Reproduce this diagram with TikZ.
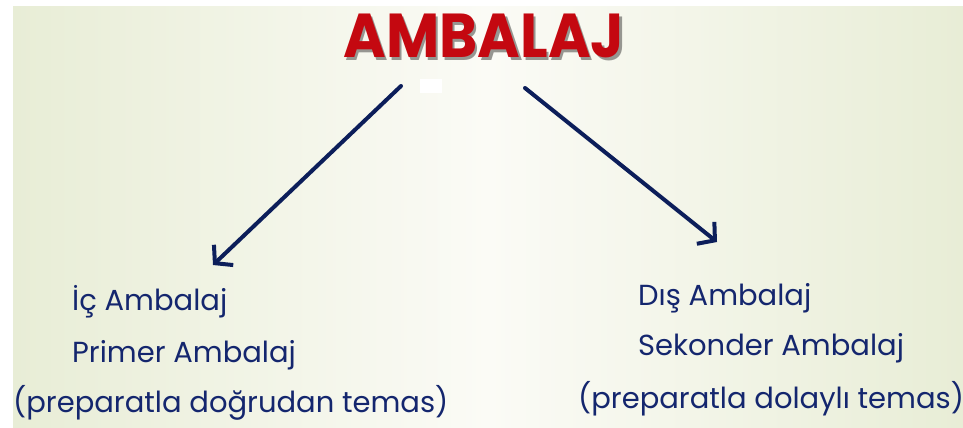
\documentclass[tikz,border=0pt]{standalone}
\usepackage{graphicx}
\usepackage{fontspec}
\setmainfont{Poppins}
\newfontfamily\titlefont{Poppins}[UprightFont=* Bold]
\usetikzlibrary{arrows.meta}
\definecolor{navy}{RGB}{20,38,110}
\definecolor{arrowblue}{RGB}{12,30,90}
\definecolor{titlered}{RGB}{196,8,16}
\definecolor{titleshade}{RGB}{150,150,145}
\definecolor{bggreen}{RGB}{232,237,214}
\definecolor{bglight}{RGB}{251,251,246}
\newcommand{\shadowtext}[1]{\makebox[0pt][l]{\hspace{2.5pt}\raisebox{-2.5pt}{\textcolor{titleshade}{#1}}}#1}
\tikzset{
  txt/.style={anchor=base west, inner sep=0pt, text=navy, font=\fontsize{29}{35}\selectfont},
  ttl/.style={anchor=base, inner sep=0pt, text=titlered, font=\titlefont\fontsize{62}{70}\selectfont},
  conn/.style={draw=arrowblue, line width=4pt, line cap=round, line join=round,
    -{Straight Barb[length=12pt,width=28pt,line width=4pt]}},
}
\begin{document}
\begin{tikzpicture}[x=1pt,y=-1pt]
\useasboundingbox (0,0) rectangle (963,428);
\fill[white] (0,0) rectangle (963,428);
\shade[left color=bggreen, right color=bggreen, middle color=bglight] (13,7) rectangle (963,428);
\fill[white] (420,79) rectangle (442,93);
% title
\node (title) [ttl] at (484,58) {\scalebox{0.935}[1]{\shadowtext{AMBALAJ}}};
% left texts
\node (ic) [txt] at (72,310) {İç Ambalaj};
\node (primer) [txt] at (72,362) {Primer Ambalaj};
\node (dogrudan) [txt] at (13,412) {(preparatla doğrudan temas)};
% right texts
\node (dis) [txt] at (638,305) {Dış Ambalaj};
\node (sekonder) [txt] at (638,355) {Sekonder Ambalaj};
\node (dolayli) [txt] at (578,408) {(preparatla dolaylı temas)};
% arrows
\coordinate (lstart) at (401,86);
\coordinate (lend) at (213,265);
\coordinate (rstart) at (525,88);
\coordinate (rend) at (717,242);
\draw[conn] (lstart) -- (lend);
\draw[conn] (rstart) -- (rend);
\end{tikzpicture}
\end{document}
